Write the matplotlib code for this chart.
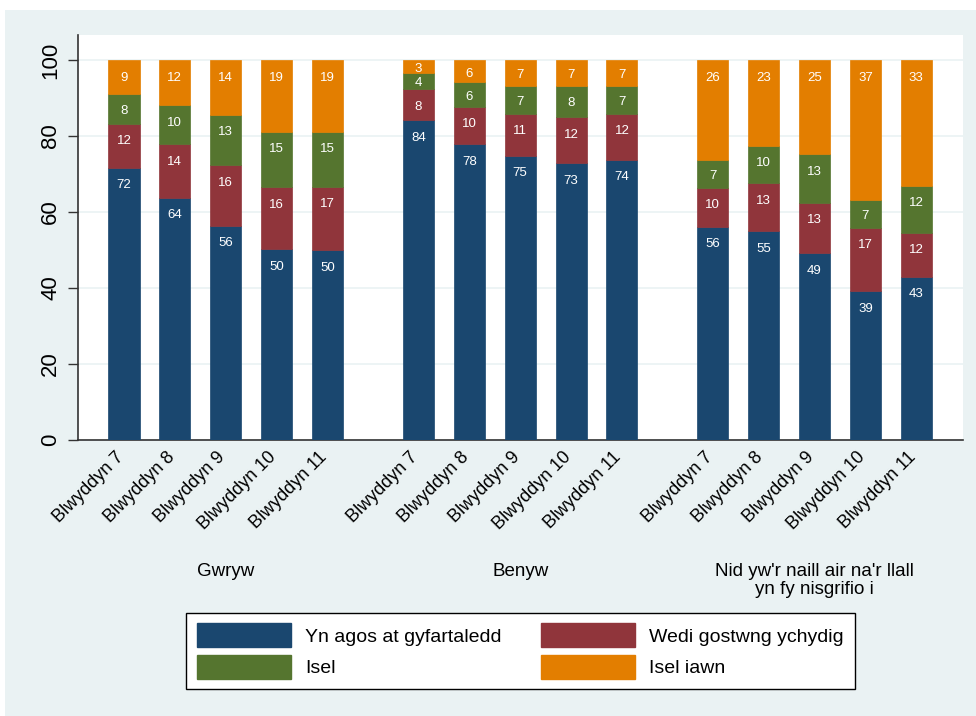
import numpy as np
import matplotlib
matplotlib.use("Agg")
import matplotlib.pyplot as plt
from matplotlib.patches import Rectangle, Patch

plt.rcParams['font.family'] = ['Liberation Sans', 'DejaVu Sans']

groups = ["Gwryw", "Benyw", "Nid yw'r naill air na'r llall\nyn fy nisgrifio i"]
years = ["Blwyddyn 7", "Blwyddyn 8", "Blwyddyn 9", "Blwyddyn 10", "Blwyddyn 11"]
series = ["Yn agos at gyfartaledd", "Wedi gostwng ychydig", "Isel", "Isel iawn"]

near_avg = [71.6, 63.8, 56.4, 50.2, 50.0, 84.2, 77.8, 74.8, 72.8, 73.7,
            56.1, 55.0, 49.1, 39.2, 43.0]
slight = [11.6, 14.1, 15.9, 16.3, 16.6, 8.1, 9.9, 11.1, 12.2, 12.2,
          10.3, 12.6, 13.4, 16.6, 11.6]
low = [7.9, 10.2, 13.3, 14.7, 14.6, 4.4, 6.4, 7.4, 8.2, 7.4,
       7.3, 9.8, 12.7, 7.3, 12.3]
very_low = [8.9, 11.9, 14.4, 18.8, 18.8, 3.3, 5.9, 6.7, 6.8, 6.7,
            26.3, 22.6, 24.8, 36.9, 33.1]

colors = ["#1A476F", "#90353B", "#55752F", "#E37E00"]
bg = "#EAF2F3"

fig = plt.figure(figsize=(9.76, 7.16), dpi=100, facecolor="white")
fig.add_artist(Rectangle((5 / 976, 0), 1, (716 - 10) / 716, transform=fig.transFigure,
                         facecolor=bg, edgecolor="none", zorder=-10))

ax = fig.add_axes([78 / 976, (716 - 440) / 716, (963 - 78) / 976, (440 - 35) / 716])
ax.set_facecolor("white")

group_gap = 5.786
pos = np.array([g * group_gap + i for g in range(len(groups)) for i in range(len(years))])
width = 0.61

bottom = np.zeros(len(pos))
for name, vals, col in zip(series, [near_avg, slight, low, very_low], colors):
    vals = np.array(vals)
    ax.bar(pos, vals, width, bottom=bottom, color=col, edgecolor=col, linewidth=0.5,
           label=name, zorder=3)
    for x, b, v in zip(pos, bottom, vals):
        top = b + v
        y = top - min(4.6, v / 2 + 0.6)
        ax.text(x, y, f"{v:.0f}", ha="center", va="center", color="white",
                fontsize=9.5, zorder=4)
    bottom += vals

ax.set_ylim(0, 106.6)
ax.set_xlim(-0.904, 16.49)
ax.set_yticks(range(0, 101, 20))
ax.yaxis.grid(True, color=bg, linewidth=1.2, zorder=0)
ax.tick_params(axis="y", length=7.2, width=1, pad=5, labelsize=16, labelrotation=90,
               color="#333333")
for lab in ax.get_yticklabels():
    lab.set_va("center")

ax.set_xticks(pos - 0.06)
ax.set_xticklabels(years * len(groups), rotation=45, ha="right", va="center",
                   rotation_mode="anchor", fontsize=13)
ax.tick_params(axis="x", length=0, pad=10.5)

for s in ["top", "right"]:
    ax.spines[s].set_visible(False)
for s in ["left", "bottom"]:
    ax.spines[s].set_color("#333333")
    ax.spines[s].set_linewidth(1.2)

for g, name in enumerate(groups):
    ax.text(g * group_gap + 2, (440 - 563) / 405, name, transform=ax.get_xaxis_transform(),
            ha="center", va="top", fontsize=13.5, linespacing=1.05)

# legend filled column by column: blue, green | red, orange
order = [0, 2, 1, 3]
handles = [Patch(facecolor=colors[i], edgecolor=colors[i]) for i in order]
labels = [series[i] for i in order]
leg = fig.legend(handles, labels, ncol=2, loc="center",
                 bbox_to_anchor=(520.5 / 976, (716 - 651) / 716),
                 fontsize=14, frameon=True, fancybox=False, edgecolor="black",
                 framealpha=1, facecolor="white",
                 handlelength=4.85, handleheight=1.5, handletextpad=0.72,
                 columnspacing=2.0, labelspacing=0.4, borderpad=0.55)
leg.get_frame().set_linewidth(1.0)

fig.savefig("out.png", dpi=100, facecolor=fig.get_facecolor())
